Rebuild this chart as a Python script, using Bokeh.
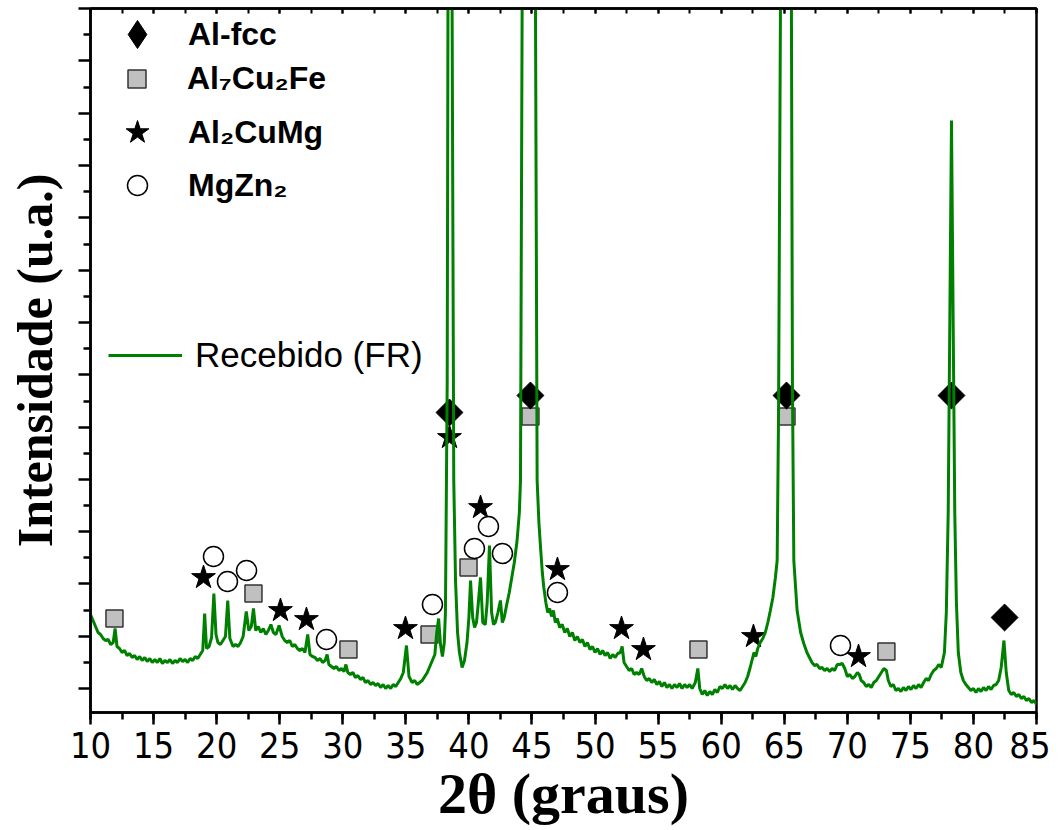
import numpy as np
from bokeh.plotting import figure
from bokeh.models import (Range1d, SingleIntervalTicker, FixedTicker, LinearAxis,
                          CustomJSTickFormatter, Legend, LegendItem)
from bokeh.embed import file_html
from bokeh.resources import INLINE

# ---------------- data ----------------
two_theta = [
    10.0, 10.2, 10.4, 10.6, 10.8, 11.0, 11.2, 11.4, 11.6, 11.8, 11.95, 12.1, 12.3, 12.5, 12.7, 12.9,
    13.1, 13.3, 13.5, 13.7, 13.9, 14.1, 14.3, 14.5, 14.7, 14.9, 15.1, 15.3, 15.5, 15.7, 15.9, 16.1,
    16.3, 16.5, 16.7, 16.9, 17.1, 17.3, 17.5, 17.7, 17.9, 18.1, 18.3, 18.5, 18.7, 18.9, 19.05, 19.2,
    19.4, 19.6, 19.78, 19.95, 20.1, 20.3, 20.5, 20.7, 20.88, 21.05, 21.3, 21.5, 21.7, 21.9, 22.1, 22.35,
    22.55, 22.75, 22.92, 23.1, 23.3, 23.5, 23.7, 23.9, 24.1, 24.3, 24.5, 24.7, 24.95, 25.2, 25.4, 25.6,
    25.8, 26.0, 26.2, 26.4, 26.6, 26.8, 27.0, 27.22, 27.4, 27.6, 27.8, 28.0, 28.2, 28.4, 28.6, 28.76,
    28.9, 29.1, 29.3, 29.5, 29.7, 29.9, 30.1, 30.25, 30.4, 30.6, 30.8, 31.0, 31.2, 31.4, 31.6, 31.8,
    32.0, 32.2, 32.4, 32.6, 32.8, 33.0, 33.2, 33.4, 33.6, 33.8, 34.0, 34.2, 34.4, 34.6, 34.8, 35.05,
    35.25, 35.5, 35.7, 35.9, 36.1, 36.3, 36.5, 36.7, 36.9, 37.1, 37.3, 37.45, 37.6, 37.75, 37.9, 38.05,
    38.14, 38.28, 38.34, 38.5, 38.67, 38.8, 38.94, 39.1, 39.25, 39.46, 39.65, 39.85, 40.0, 40.13, 40.3, 40.45,
    40.6, 40.75, 40.92, 41.1, 41.3, 41.45, 41.63, 41.8, 41.95, 42.1, 42.3, 42.5, 42.65, 42.8, 43.0, 43.2,
    43.4, 43.6, 43.82, 44.0, 44.09, 44.22, 44.75, 45.28, 45.41, 45.55, 45.68, 45.82, 45.94, 46.1, 46.25, 46.4,
    46.55, 46.7, 46.85, 47.0, 47.2, 47.4, 47.6, 47.8, 48.0, 48.2, 48.4, 48.6, 48.8, 49.0, 49.2, 49.4,
    49.6, 49.8, 50.0, 50.2, 50.4, 50.6, 50.8, 51.0, 51.2, 51.4, 51.6, 51.8, 52.0, 52.15, 52.3, 52.5,
    52.7, 52.9, 53.1, 53.3, 53.5, 53.7, 53.9, 54.1, 54.3, 54.5, 54.7, 54.9, 55.1, 55.3, 55.5, 55.7,
    55.9, 56.1, 56.3, 56.5, 56.7, 56.9, 57.1, 57.3, 57.5, 57.7, 57.95, 58.15, 58.3, 58.5, 58.7, 58.9,
    59.1, 59.3, 59.5, 59.7, 59.9, 60.1, 60.3, 60.5, 60.7, 60.9, 61.1, 61.3, 61.5, 61.7, 61.9, 62.1,
    62.3, 62.5, 62.6, 62.75, 62.9, 63.1, 63.3, 63.5, 63.7, 63.9, 64.1, 64.3, 64.44, 64.55, 64.7, 65.15,
    65.57, 65.65, 65.76, 66.02, 66.3, 66.55, 66.8, 67.0, 67.2, 67.4, 67.6, 67.8, 68.0, 68.2, 68.4, 68.6,
    68.8, 69.0, 69.2, 69.4, 69.6, 69.8, 70.0, 70.2, 70.4, 70.6, 70.8, 70.95, 71.1, 71.3, 71.5, 71.7,
    71.9, 72.1, 72.3, 72.5, 72.7, 72.9, 73.1, 73.25, 73.45, 73.65, 73.85, 74.05, 74.25, 74.45, 74.65, 74.85,
    75.05, 75.25, 75.45, 75.65, 75.85, 76.05, 76.25, 76.45, 76.65, 76.85, 77.05, 77.25, 77.45, 77.7, 77.85, 78.0,
    78.12, 78.26, 78.4, 78.52, 78.65, 78.8, 79.0, 79.2, 79.4, 79.6, 79.8, 80.0, 80.2, 80.4, 80.6, 80.8,
    81.0, 81.2, 81.4, 81.6, 81.8, 82.0, 82.2, 82.42, 82.6, 82.8, 83.0, 83.2, 83.4, 83.6, 83.8, 84.0,
    84.2, 84.4, 84.6, 84.8, 85.0,
]
intensity = [
    98, 92, 86, 80, 78, 74, 72, 73, 68, 70, 84, 66, 64, 60, 62, 57,
    59, 55, 57, 53, 56, 52, 55, 51, 54, 50, 53, 50, 54, 49, 52, 50,
    53, 49, 52, 50, 54, 51, 53, 50, 54, 52, 56, 54, 58, 62, 99, 64,
    66, 75, 119, 78, 70, 68, 72, 76, 112, 74, 66, 68, 66, 70, 76, 101,
    82, 86, 104, 82, 86, 80, 84, 78, 82, 88, 80, 78, 87, 76, 72, 70,
    72, 66, 68, 64, 62, 64, 60, 78, 58, 56, 55, 52, 54, 50, 52, 58,
    48, 46, 44, 46, 42, 44, 41, 48, 40, 38, 40, 35, 37, 33, 35, 30,
    32, 28, 30, 27, 29, 25, 28, 24, 27, 24, 28, 26, 30, 34, 40, 67,
    36, 30, 32, 28, 30, 32, 36, 40, 46, 52, 58, 80, 94, 68, 56, 70,
    100, 330, 700, 1800, 700, 232, 132, 80, 60, 45, 52, 70, 95, 132, 95, 85,
    90, 110, 135, 90, 88, 110, 167, 100, 88, 90, 100, 112, 90, 95, 108, 120,
    135, 150, 172, 200, 232, 704, 4000, 704, 232, 190, 165, 140, 125, 110, 100, 104,
    96, 102, 90, 94, 85, 88, 80, 84, 76, 80, 72, 76, 70, 73, 66, 70,
    63, 66, 60, 64, 58, 62, 57, 60, 54, 58, 55, 59, 60, 66, 50, 46,
    42, 44, 38, 40, 38, 44, 36, 32, 34, 30, 33, 28, 31, 26, 30, 25,
    28, 24, 28, 25, 29, 24, 28, 25, 28, 24, 30, 44, 24, 18, 22, 17,
    21, 18, 23, 20, 26, 24, 28, 24, 27, 23, 27, 24, 22, 26, 30, 36,
    45, 55, 60, 56, 64, 70, 74, 80, 90, 102, 115, 135, 152, 300, 704, 4000,
    704, 330, 152, 102, 80, 69, 60, 55, 50, 47, 48, 44, 45, 42, 44, 41,
    44, 42, 48, 48, 49, 44, 36, 38, 34, 36, 40, 38, 32, 30, 26, 28,
    25, 30, 32, 36, 40, 44, 42, 32, 26, 28, 22, 24, 21, 25, 22, 26,
    23, 27, 24, 28, 25, 30, 34, 32, 38, 42, 44, 48, 45, 60, 100, 200,
    380, 592, 380, 200, 110, 60, 40, 32, 28, 25, 22, 24, 20, 24, 21, 25,
    22, 26, 23, 27, 28, 32, 45, 72, 40, 22, 18, 20, 16, 18, 14, 16,
    12, 14, 10, 12, 8,
]

al_fcc_x = [38.46, 44.88, 65.18, 78.26, 82.47]
al_fcc_y = [300, 317, 317, 317, 95]

al7cu2fe_x = [11.9, 22.92, 30.45, 36.88, 39.97, 44.88, 58.2, 65.18, 73.1]
al7cu2fe_y = [94, 119, 63, 78, 145, 296, 63, 296, 61]

al2cumg_x = [18.96, 25.06, 27.12, 34.97, 38.46, 40.92, 47.02, 52.1, 53.84, 62.56, 70.89]
al2cumg_y = [135, 102, 93, 84, 275, 205, 143, 84, 63, 76, 56]

mgzn2_x = [19.75, 20.86, 22.37, 28.71, 37.11, 40.44, 41.55, 42.66, 47.02, 69.46]
mgzn2_y = [156, 131, 142, 73, 108, 164, 186, 159, 120, 67]

# ---------------- figure ----------------
p = figure(frame_width=946, frame_height=704,
           x_range=Range1d(10, 85), y_range=Range1d(0, 704),
           output_backend="svg", toolbar_location=None,
           min_border_left=90, min_border_right=14, min_border_top=8, min_border_bottom=100,
           background_fill_color="white", border_fill_color="white")
p.outline_line_color = "black"
p.outline_line_width = 2.5
p.grid.visible = False

# markers (drawn below the line)
r_sq = p.scatter(al7cu2fe_x, al7cu2fe_y, marker="square", size=17, fill_color="#c0c0c0",
                 line_color="#333333", line_width=1.5)
r_st = p.scatter(al2cumg_x, al2cumg_y, marker="star", size=25, fill_color="black",
                 line_color="black", line_width=1)
r_ci = p.scatter(mgzn2_x, mgzn2_y, marker="circle", size=20, fill_color="white",
                 line_color="black", line_width=1.5)
r_di = p.scatter(al_fcc_x, al_fcc_y, marker="square", angle=np.pi / 4, size=19,
                 fill_color="black", line_color="black", line_width=1)
r_ln = p.line(two_theta, intensity, line_color="#008000", line_width=3)

# legend key for Al-fcc (legend keys are drawn unrotated, so a hidden diamond copy is used)
r_di_key = p.scatter(al_fcc_x, al_fcc_y, marker="diamond", fill_color="black",
                     line_color="black", visible=False)

# axes
xa = p.xaxis[0]
xa.ticker = SingleIntervalTicker(interval=5, num_minor_ticks=2)
xa.axis_line_width = 2.5
xa.major_tick_line_width = 2.5
xa.minor_tick_line_width = 2.5
xa.major_tick_out = 12
xa.major_tick_in = 0
xa.minor_tick_out = 7
xa.minor_tick_in = 0
xa.major_label_text_font = "DejaVu Sans Condensed"
xa.major_label_text_font_size = "36px"
xa.major_label_text_color = "black"
xa.major_label_standoff = 7
xa.axis_label = "2θ (graus)"
xa.axis_label_text_font = "Liberation Serif"
xa.axis_label_text_font_style = "bold"
xa.axis_label_text_font_size = "58px"
xa.axis_label_text_color = "black"
xa.axis_label_standoff = 0

# top axis: small inward ticks, no labels
top = LinearAxis(ticker=SingleIntervalTicker(interval=5, num_minor_ticks=2),
                 formatter=CustomJSTickFormatter(code="return ''"),
                 major_label_text_font_size="0px", major_label_standoff=0,
                 axis_line_width=2.5, major_tick_line_width=2, minor_tick_line_width=2,
                 major_tick_in=5, major_tick_out=0, minor_tick_in=5, minor_tick_out=0)
p.add_layout(top, "above")

major_y = [24 + 52.3 * k for k in range(14)]
minor_y = [50 + 52.3 * k for k in range(13)]
ya = p.yaxis[0]
ya.ticker = FixedTicker(ticks=major_y, minor_ticks=minor_y)
ya.formatter = CustomJSTickFormatter(code="return ''")
ya.axis_line_width = 2.5
ya.major_tick_line_width = 2.5
ya.minor_tick_line_width = 2.5
ya.major_tick_out = 12
ya.major_tick_in = 0
ya.minor_tick_out = 7
ya.minor_tick_in = 0
ya.major_label_standoff = 0
ya.axis_label = "Intensidade (u.a.)"
ya.axis_label_text_font = "Liberation Serif"
ya.axis_label_text_font_style = "bold"
ya.axis_label_text_font_size = "50px"
ya.axis_label_text_color = "black"
ya.axis_label_standoff = 16

# legends
def make_legend(label, renderer, loc, glyph, standoff, bold=True, size="32px", gh=None):
    gh = glyph if gh is None else gh
    lg = Legend(items=[LegendItem(label=label, renderers=[renderer])], location=loc,
                padding=0, margin=0, spacing=0, border_line_color=None,
                background_fill_alpha=0, inactive_fill_alpha=0,
                glyph_width=glyph, glyph_height=gh,
                label_height=30, label_standoff=standoff,
                label_text_font="Liberation Sans", label_text_font_size=size,
                label_text_color="black", click_policy="none",
                label_text_font_style="bold" if bold else "normal")
    p.add_layout(lg, "center")

make_legend("Al-fcc", r_di_key, (12, 643), 70, 16)
make_legend("Al₇Cu₂Fe", r_sq, (24, 611), 45, 28)
make_legend("Al₂CuMg", r_st, (17, 550), 60, 21)
make_legend("MgZn₂", r_ci, (22, 502), 50, 26)
make_legend("Recebido (FR)", r_ln, (18, 337), 74, 13, bold=False, size="35px", gh=30)

open("out.html", "w").write(file_html(p, INLINE))
